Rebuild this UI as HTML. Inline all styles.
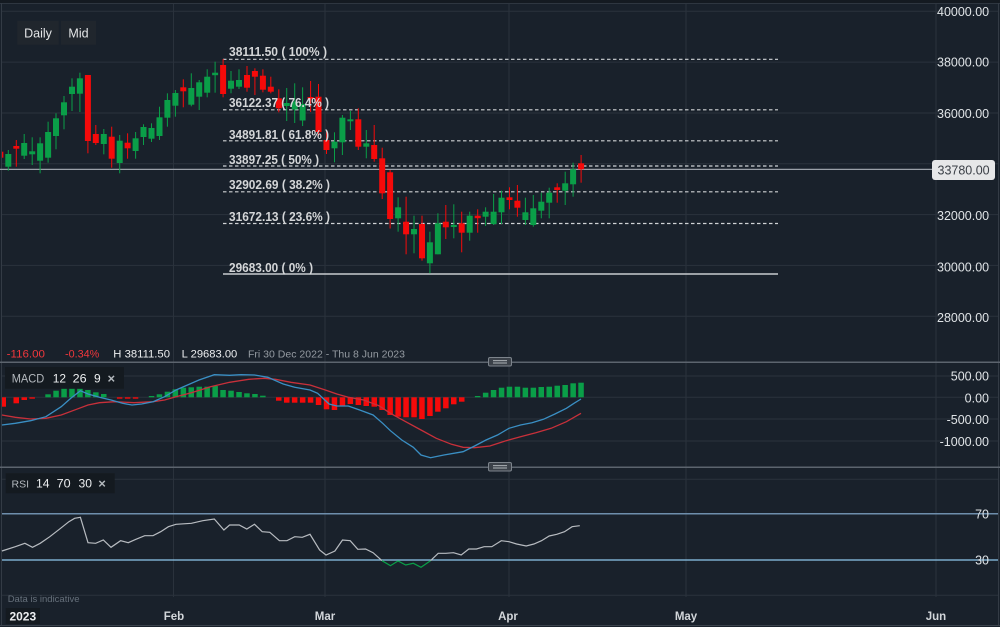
<!DOCTYPE html>
<html><head><meta charset="utf-8"><style>
html,body{margin:0;padding:0;background:#19212b;}
svg{display:block;font-family:"Liberation Sans",sans-serif;}
</style></head><body>
<svg width="1000" height="627" viewBox="0 0 1000 627" xmlns="http://www.w3.org/2000/svg">
<rect x="0" y="0" width="1000" height="627" fill="#19212b"/>
<rect x="0" y="0" width="1000" height="3" fill="#141a21"/>
<line x1="0" y1="3.5" x2="1000" y2="3.5" stroke="#2e3640" stroke-width="1"/>
<line x1="1.5" y1="3" x2="1.5" y2="625" stroke="#333b45" stroke-width="1"/>
<line x1="998.5" y1="3" x2="998.5" y2="625" stroke="#333b45" stroke-width="1"/>
<line x1="0" y1="625.5" x2="1000" y2="625.5" stroke="#3a424c" stroke-width="1"/>

<!-- vertical grid -->
<g stroke="#2a323c" stroke-width="1">
<line x1="173.5" y1="4" x2="173.5" y2="597"/>
<line x1="325" y1="4" x2="325" y2="597"/>
<line x1="509" y1="4" x2="509" y2="597"/>
<line x1="686" y1="4" x2="686" y2="597"/>
<line x1="936" y1="4" x2="936" y2="597"/>
</g>
<!-- horizontal grid main -->
<g stroke="#2a323c" stroke-width="1">
<line x1="2" y1="11.3" x2="998" y2="11.3"/>
<line x1="2" y1="62.1" x2="998" y2="62.1"/>
<line x1="2" y1="113" x2="998" y2="113"/>
<line x1="2" y1="163.8" x2="998" y2="163.8"/>
<line x1="2" y1="214.6" x2="998" y2="214.6"/>
<line x1="2" y1="265.4" x2="998" y2="265.4"/>
<line x1="2" y1="316.3" x2="998" y2="316.3"/>
<!-- macd grid -->
<line x1="2" y1="376" x2="998" y2="376"/>
<line x1="2" y1="397.3" x2="998" y2="397.3"/>
<line x1="2" y1="419" x2="998" y2="419"/>
<line x1="2" y1="441" x2="998" y2="441"/>
<!-- rsi grid -->
<line x1="2" y1="479.3" x2="998" y2="479.3"/>
<line x1="2" y1="595.3" x2="998" y2="595.3"/>
</g>

<!-- buttons -->
<rect x="17.3" y="20.7" width="41.4" height="24" fill="#20262d"/>
<rect x="61" y="20.7" width="35" height="24" fill="#20262d"/>
<text x="38" y="37.5" font-size="12.5" fill="#e4e6e8" text-anchor="middle">Daily</text>
<text x="78.5" y="37.5" font-size="12.5" fill="#e4e6e8" text-anchor="middle">Mid</text>

<!-- current price line -->
<line x1="0" y1="169.4" x2="932" y2="169.4" stroke="#9aa0a8" stroke-width="1.2"/>

<!-- fib lines -->
<g stroke="#cfd2d5" stroke-width="1.2" stroke-dasharray="3.5,2.5">
<line x1="223" y1="59.3" x2="778" y2="59.3"/>
<line x1="223" y1="109.8" x2="778" y2="109.8"/>
<line x1="223" y1="140.8" x2="778" y2="140.8"/>
<line x1="223" y1="166" x2="778" y2="166"/>
<line x1="223" y1="191.8" x2="778" y2="191.8"/>
<line x1="223" y1="223.5" x2="778" y2="223.5"/>
</g>
<line x1="223" y1="274" x2="778" y2="274" stroke="#c8ccd0" stroke-width="1.4"/>

<defs><clipPath id="pc"><rect x="2" y="4" width="934" height="356"/></clipPath></defs>
<g clip-path="url(#pc)">
<!-- candles: green -->
<g fill="#0a9e48">
<rect x="7.8" y="150" width="1" height="20.7"/><rect x="5.3" y="154" width="6" height="12.7"/>
<rect x="23.7" y="134" width="1" height="25"/><rect x="21.2" y="143" width="6" height="12.7"/>
<rect x="31.7" y="137.3" width="1" height="27.7"/><rect x="29.2" y="151.3" width="6" height="3"/>
<rect x="39.6" y="137.3" width="1" height="36"/><rect x="37.1" y="143.3" width="6" height="17.4"/>
<rect x="47.6" y="121.7" width="1" height="41"/><rect x="45.1" y="132" width="6" height="25.7"/>
<rect x="55.5" y="113.3" width="1" height="36"/><rect x="53" y="118.3" width="6" height="17.7"/>
<rect x="63.5" y="96" width="1" height="33.3"/><rect x="61" y="102.3" width="6" height="13"/>
<rect x="71.5" y="78.3" width="1" height="32.7"/><rect x="69" y="86.7" width="6" height="7.3"/>
<rect x="79.4" y="72.7" width="1" height="39.3"/><rect x="76.9" y="78.3" width="6" height="15.4"/>
<rect x="103.3" y="129" width="1" height="25.3"/><rect x="100.8" y="134" width="6" height="10"/>
<rect x="119.2" y="135" width="1" height="38.3"/><rect x="116.7" y="140.7" width="6" height="22.3"/>
<rect x="135.1" y="132" width="1" height="26.7"/><rect x="132.6" y="138.3" width="6" height="12.7"/>
<rect x="143" y="124.3" width="1" height="20.7"/><rect x="140.5" y="127" width="6" height="10"/>
<rect x="151" y="123.3" width="1" height="18.7"/><rect x="148.5" y="128" width="6" height="10.7"/>
<rect x="159" y="106.7" width="1" height="33.3"/><rect x="156.5" y="117.3" width="6" height="18.7"/>
<rect x="166.9" y="93.3" width="1" height="33.4"/><rect x="164.4" y="100" width="6" height="17.7"/>
<rect x="174.9" y="90" width="1" height="26.7"/><rect x="172.4" y="93" width="6" height="12.7"/>
<rect x="190.8" y="73.3" width="1" height="33"/><rect x="188.3" y="88" width="6" height="16.7"/>
<rect x="198.7" y="80" width="1" height="30"/><rect x="196.2" y="82.3" width="6" height="14.4"/>
<rect x="206.7" y="69.3" width="1" height="28"/><rect x="204.2" y="76.7" width="6" height="16"/>
<rect x="214.6" y="61.7" width="1" height="31"/><rect x="212.1" y="72.7" width="6" height="2.5"/>
<rect x="230.5" y="71" width="1" height="22.3"/><rect x="228" y="80.7" width="6" height="8"/>
<rect x="238.5" y="69.3" width="1" height="19.7"/><rect x="236" y="80" width="6" height="6.7"/>
<rect x="286.2" y="88" width="1" height="33"/><rect x="283.7" y="103" width="6" height="3"/>
<rect x="294.2" y="83.3" width="1" height="39.7"/><rect x="291.7" y="101.7" width="6" height="7.8"/>
<rect x="302.1" y="87.3" width="1" height="38.7"/><rect x="299.6" y="104" width="6" height="16.5"/>
<rect x="334" y="132.3" width="1" height="30"/><rect x="331.5" y="141.7" width="6" height="6.6"/>
<rect x="341.9" y="115" width="1" height="40"/><rect x="339.4" y="117.7" width="6" height="24.6"/>
<rect x="349.9" y="111" width="1" height="19"/><rect x="347.4" y="119.3" width="6" height="2"/>
<rect x="365.8" y="130" width="1" height="28.3"/><rect x="363.3" y="143.3" width="6" height="3.4"/>
<rect x="397.6" y="197.3" width="1" height="34.4"/><rect x="395.1" y="207.3" width="6" height="11"/>
<rect x="413.5" y="215.7" width="1" height="37.6"/><rect x="411" y="229" width="6" height="5.3"/>
<rect x="429.4" y="231.7" width="1" height="41.6"/><rect x="426.9" y="242.3" width="6" height="21"/>
<rect x="437.4" y="213.3" width="1" height="41"/><rect x="434.9" y="223.3" width="6" height="31"/>
<rect x="453.3" y="204.3" width="1" height="34"/><rect x="450.8" y="225" width="6" height="2"/>
<rect x="469.2" y="211.7" width="1" height="29"/><rect x="466.7" y="215.7" width="6" height="17"/>
<rect x="485.1" y="207.3" width="1" height="18.7"/><rect x="482.6" y="211.7" width="6" height="5"/>
<rect x="493.1" y="194" width="1" height="31"/><rect x="490.6" y="211.7" width="6" height="12.3"/>
<rect x="501" y="190.7" width="1" height="33.3"/><rect x="498.5" y="197.7" width="6" height="14.6"/>
<rect x="524.9" y="197.7" width="1" height="27.3"/><rect x="522.4" y="212.3" width="6" height="7.7"/>
<rect x="532.8" y="195" width="1" height="31.7"/><rect x="530.3" y="208.3" width="6" height="16.7"/>
<rect x="540.8" y="192.7" width="1" height="25.6"/><rect x="538.3" y="201.7" width="6" height="9"/>
<rect x="548.7" y="187.7" width="1" height="30.6"/><rect x="546.2" y="192.7" width="6" height="10"/>
<rect x="564.7" y="171.7" width="1" height="33.3"/><rect x="562.2" y="183.3" width="6" height="7.4"/>
<rect x="572.6" y="162.7" width="1" height="34"/><rect x="570.1" y="169.3" width="6" height="15"/>
</g>
<!-- candles: red -->
<g fill="#f50a0a">
<rect x="-0.2" y="148" width="1" height="12"/><rect x="-2.65" y="151.7" width="6" height="6"/>
<rect x="15.8" y="140" width="1" height="26.7"/><rect x="13.3" y="146" width="6" height="2.7"/>
<rect x="87.4" y="75" width="1" height="78.3"/><rect x="84.9" y="75" width="6" height="66"/>
<rect x="95.3" y="125" width="1" height="20"/><rect x="92.8" y="134" width="6" height="9"/>
<rect x="111.2" y="126.7" width="1" height="41"/><rect x="108.7" y="136.7" width="6" height="22"/>
<rect x="127.1" y="133.3" width="1" height="25.4"/><rect x="124.6" y="142.7" width="6" height="5.6"/>
<rect x="182.8" y="79.3" width="1" height="28"/><rect x="180.3" y="87.3" width="6" height="4"/>
<rect x="222.6" y="59" width="1" height="38.3"/><rect x="220.1" y="65" width="6" height="29"/>
<rect x="246.5" y="66" width="1" height="25.7"/><rect x="244" y="75" width="6" height="12.7"/>
<rect x="254.4" y="68.3" width="1" height="26.7"/><rect x="251.9" y="71" width="6" height="5.7"/>
<rect x="262.4" y="69.3" width="1" height="23"/><rect x="259.9" y="75.7" width="6" height="14"/>
<rect x="270.3" y="76.7" width="1" height="16.6"/><rect x="267.8" y="86.7" width="6" height="5"/>
<rect x="278.3" y="89.3" width="1" height="23"/><rect x="275.8" y="98.3" width="6" height="10"/>
<rect x="310.1" y="81" width="1" height="31"/><rect x="307.6" y="97" width="6" height="2"/>
<rect x="318" y="84" width="1" height="52"/><rect x="315.5" y="96.7" width="6" height="35.3"/>
<rect x="326" y="130" width="1" height="24"/><rect x="323.5" y="140" width="6" height="10"/>
<rect x="357.8" y="108.3" width="1" height="41.7"/><rect x="355.3" y="119.3" width="6" height="27.4"/>
<rect x="373.7" y="125" width="1" height="36.7"/><rect x="371.2" y="145" width="6" height="14"/>
<rect x="381.7" y="147.7" width="1" height="51.3"/><rect x="379.2" y="158.3" width="6" height="35"/>
<rect x="389.6" y="170" width="1" height="58.5"/><rect x="387.1" y="172.3" width="6" height="46.7"/>
<rect x="405.6" y="196.7" width="1" height="57.6"/><rect x="403.1" y="221.7" width="6" height="12.6"/>
<rect x="421.5" y="215.7" width="1" height="45"/><rect x="419" y="224" width="6" height="34.3"/>
<rect x="445.3" y="205" width="1" height="34"/><rect x="442.8" y="221.7" width="6" height="5.6"/>
<rect x="461.2" y="211.7" width="1" height="40.6"/><rect x="458.7" y="223.3" width="6" height="9.4"/>
<rect x="477.2" y="209.3" width="1" height="23.4"/><rect x="474.7" y="215.7" width="6" height="2.5"/>
<rect x="509" y="187.3" width="1" height="22"/><rect x="506.5" y="197.3" width="6" height="2.7"/>
<rect x="516.9" y="185" width="1" height="31.7"/><rect x="514.4" y="200.7" width="6" height="7"/>
<rect x="556.7" y="183.3" width="1" height="19.4"/><rect x="554.2" y="187.3" width="6" height="2.7"/>
<rect x="580.6" y="155" width="1" height="27.7"/><rect x="578.1" y="163.3" width="6" height="6"/>
</g>
</g>

<!-- fib labels -->
<g font-size="12.5" font-weight="bold" fill="#d4d6d8" lengthAdjust="spacingAndGlyphs">
<text x="229" y="56.2" textLength="98" lengthAdjust="spacingAndGlyphs">38111.50 ( 100% )</text>
<text x="229" y="107" textLength="100" lengthAdjust="spacingAndGlyphs">36122.37 ( 76.4% )</text>
<text x="229" y="138.8" textLength="100" lengthAdjust="spacingAndGlyphs">34891.81 ( 61.8% )</text>
<text x="229" y="163.8" textLength="90" lengthAdjust="spacingAndGlyphs">33897.25 ( 50% )</text>
<text x="229" y="188.8" textLength="101" lengthAdjust="spacingAndGlyphs">32902.69 ( 38.2% )</text>
<text x="229" y="221.2" textLength="101" lengthAdjust="spacingAndGlyphs">31672.13 ( 23.6% )</text>
<text x="229" y="272.2" textLength="84" lengthAdjust="spacingAndGlyphs">29683.00 ( 0% )</text>
</g>

<!-- price axis -->
<g font-size="12.5" fill="#dfe3e6">
<text x="937" y="16">40000.00</text>
<text x="937" y="66.6">38000.00</text>
<text x="937" y="118">36000.00</text>
<text x="937" y="220">32000.00</text>
<text x="937" y="271.3">30000.00</text>
<text x="937" y="322">28000.00</text>
</g>
<rect x="932" y="160" width="63" height="20" rx="3" fill="#e6e7e8"/>
<text x="937.5" y="174.5" font-size="12.5" fill="#3a3f46">33780.00</text>

<!-- info row -->
<g font-size="11">
<text x="6.7" y="357.5" fill="#f0373c" textLength="38.3" lengthAdjust="spacingAndGlyphs">-116.00</text>
<text x="65" y="357.5" fill="#f0373c" textLength="34.3" lengthAdjust="spacingAndGlyphs">-0.34%</text>
<text x="113.3" y="357.5" fill="#eceef0" textLength="56.7" lengthAdjust="spacingAndGlyphs">H 38111.50</text>
<text x="181.7" y="357.5" fill="#eceef0" textLength="55.6" lengthAdjust="spacingAndGlyphs">L 29683.00</text>
<text x="248" y="357.5" fill="#959ba2" font-size="10.5" textLength="157" lengthAdjust="spacingAndGlyphs">Fri 30 Dec 2022 - Thu 8 Jun 2023</text>
</g>

<!-- separators -->
<line x1="0" y1="362.3" x2="1000" y2="362.3" stroke="#5c646e" stroke-width="1.5"/>
<line x1="0" y1="467.3" x2="1000" y2="467.3" stroke="#5c646e" stroke-width="1.5"/>
<g>
<rect x="488.5" y="357.5" width="23" height="8.5" rx="1.5" fill="#3b4149" stroke="#7d848c" stroke-width="1"/>
<line x1="493" y1="360.7" x2="507" y2="360.7" stroke="#c0c4c8" stroke-width="0.9"/>
<line x1="493" y1="363" x2="507" y2="363" stroke="#c0c4c8" stroke-width="0.9"/>
<rect x="488.5" y="462.5" width="23" height="8.5" rx="1.5" fill="#3b4149" stroke="#7d848c" stroke-width="1"/>
<line x1="493" y1="465.7" x2="507" y2="465.7" stroke="#c0c4c8" stroke-width="0.9"/>
<line x1="493" y1="468" x2="507" y2="468" stroke="#c0c4c8" stroke-width="0.9"/>
</g>

<!-- MACD histogram -->
<g fill="#0a9e48">
<rect x="45.3" y="394.3" width="5.5" height="3"/>
<rect x="53.3" y="390.7" width="5.5" height="6.6"/>
<rect x="61.3" y="388.7" width="5.5" height="8.6"/>
<rect x="69.2" y="388.7" width="5.5" height="8.6"/>
<rect x="77.2" y="388.7" width="5.5" height="8.6"/>
<rect x="85.1" y="390" width="5.5" height="7.3"/>
<rect x="93.1" y="392.3" width="5.5" height="5"/>
<rect x="101" y="394" width="5.5" height="3.3"/>
<rect x="148.8" y="396" width="5.5" height="1.3"/>
<rect x="156.7" y="394.3" width="5.5" height="3"/>
<rect x="164.7" y="391.7" width="5.5" height="5.6"/>
<rect x="172.6" y="389.3" width="5.5" height="8"/>
<rect x="180.6" y="387.7" width="5.5" height="9.6"/>
<rect x="188.5" y="387.3" width="5.5" height="10"/>
<rect x="196.5" y="386.7" width="5.5" height="10.6"/>
<rect x="204.4" y="386.7" width="5.5" height="10.6"/>
<rect x="212.4" y="386" width="5.5" height="11.3"/>
<rect x="220.3" y="390" width="5.5" height="7.3"/>
<rect x="228.3" y="390.7" width="5.5" height="6.6"/>
<rect x="236.3" y="392" width="5.5" height="5.3"/>
<rect x="244.2" y="393.3" width="5.5" height="4"/>
<rect x="252.2" y="394" width="5.5" height="3.3"/>
<rect x="260.1" y="395.7" width="5.5" height="1.6"/>
<rect x="474.9" y="396" width="5.5" height="1.3"/>
<rect x="482.9" y="392.7" width="5.5" height="4.6"/>
<rect x="490.8" y="390" width="5.5" height="7.3"/>
<rect x="498.8" y="387.7" width="5.5" height="9.6"/>
<rect x="506.7" y="386.7" width="5.5" height="10.6"/>
<rect x="514.7" y="386.7" width="5.5" height="10.6"/>
<rect x="522.6" y="387.7" width="5.5" height="9.6"/>
<rect x="530.6" y="387.7" width="5.5" height="9.6"/>
<rect x="538.5" y="387" width="5.5" height="10.3"/>
<rect x="546.5" y="386.7" width="5.5" height="10.6"/>
<rect x="554.5" y="385.7" width="5.5" height="11.6"/>
<rect x="562.4" y="385" width="5.5" height="12.3"/>
<rect x="570.4" y="383.3" width="5.5" height="14"/>
<rect x="578.3" y="382.7" width="5.5" height="14.6"/>
</g>
<g fill="#f50a0a">
<rect x="2" y="397.3" width="4" height="9.4"/>
<rect x="13.5" y="397.3" width="5.5" height="6"/>
<rect x="21.5" y="397.3" width="5.5" height="2.7"/>
<rect x="29.4" y="397.3" width="5.5" height="1.4"/>
<rect x="116.9" y="397.3" width="5.5" height="1.4"/>
<rect x="124.9" y="397.3" width="5.5" height="1.4"/>
<rect x="132.8" y="397.3" width="5.5" height="1.4"/>
<rect x="276" y="397.3" width="5.5" height="3.4"/>
<rect x="284" y="397.3" width="5.5" height="5.4"/>
<rect x="291.9" y="397.3" width="5.5" height="5.4"/>
<rect x="299.9" y="397.3" width="5.5" height="5.4"/>
<rect x="307.8" y="397.3" width="5.5" height="5.4"/>
<rect x="315.8" y="397.3" width="5.5" height="7.7"/>
<rect x="323.8" y="397.3" width="5.5" height="12"/>
<rect x="331.7" y="397.3" width="5.5" height="12.7"/>
<rect x="339.7" y="397.3" width="5.5" height="8.7"/>
<rect x="347.6" y="397.3" width="5.5" height="6.7"/>
<rect x="355.6" y="397.3" width="5.5" height="7.7"/>
<rect x="363.5" y="397.3" width="5.5" height="8.7"/>
<rect x="371.5" y="397.3" width="5.5" height="9.4"/>
<rect x="379.4" y="397.3" width="5.5" height="12.7"/>
<rect x="387.4" y="397.3" width="5.5" height="17.7"/>
<rect x="395.4" y="397.3" width="5.5" height="19.4"/>
<rect x="403.3" y="397.3" width="5.5" height="20"/>
<rect x="411.3" y="397.3" width="5.5" height="20"/>
<rect x="419.2" y="397.3" width="5.5" height="21.7"/>
<rect x="427.2" y="397.3" width="5.5" height="18.7"/>
<rect x="435.1" y="397.3" width="5.5" height="14.4"/>
<rect x="443.1" y="397.3" width="5.5" height="11"/>
<rect x="451" y="397.3" width="5.5" height="7"/>
<rect x="459" y="397.3" width="5.5" height="4.4"/>
</g>
<polyline fill="none" stroke="#c8303a" stroke-width="1.3" points="1.9,415 15.3,417.3 30.6,419 45.9,418.3 61.2,415 76.5,409.3 88,405 99.5,402.7 114.8,401.7 134,402.7 153.1,401.7 164.6,400 176,396.7 191.4,392.7 210.5,386.7 229.6,382.3 248.8,379.3 264.1,378.3 275.5,379.3 290.9,382.3 310,385 325.3,390 336.8,394 348.3,397.3 363.6,400 378.9,405.7 390.4,413.3 405.7,421.7 421,430 436.3,438.3 451.6,444.3 463.1,447.3 474.6,447.7 489.9,446 505.2,441 520.5,436.7 535.8,432.7 551.1,428.3 566.4,421.7 581,413.3"/>
<polyline fill="none" stroke="#3a8fc4" stroke-width="1.3" points="1.9,425 15.3,423.3 30.6,420.7 45.9,416.7 61.2,406.7 70.8,398.3 80.4,390.7 88,394 99.5,397.3 111,400 122.5,403.3 132,405 141.6,404 153.1,401.7 164.6,396.7 176,390 187.5,385 199,380 214.3,374.7 229.6,375.3 241.1,374.7 254.5,375 267.9,377.3 283.2,384 294.7,387.3 310,390 317.6,393.3 329.1,404 336.8,406 348.3,406 359.7,410 373.1,415 382.7,423.3 390.4,430.7 401.8,440 413.3,447.3 421,455 430.5,457.7 443.9,455 463.1,451.7 474.6,446 486,440 497.5,435 509,428.3 520.5,425 532,422.7 543.4,419.3 554.9,414 566.4,408.3 574,403.3 581,399"/>

<!-- MACD label -->
<rect x="5" y="367" width="119" height="21.7" fill="#141a20"/>
<text x="11.7" y="382.3" font-size="11.5" fill="#b4b9be" textLength="32.5" lengthAdjust="spacingAndGlyphs">MACD</text>
<g font-size="12" fill="#eceef0">
<text x="52.7" y="382.5" textLength="13.3" lengthAdjust="spacingAndGlyphs">12</text>
<text x="72.7" y="382.5" textLength="14" lengthAdjust="spacingAndGlyphs">26</text>
<text x="94" y="382.5">9</text>
</g>
<text x="107.5" y="383" font-size="13" fill="#b4b9be" font-weight="bold">×</text>

<!-- MACD axis -->
<g font-size="12.5" fill="#dfe3e6" text-anchor="end">
<text x="989" y="380.5">500.00</text>
<text x="989" y="402.5">0.00</text>
<text x="989" y="424">-500.00</text>
<text x="989" y="446">-1000.00</text>
</g>

<!-- RSI -->
<line x1="2" y1="513.7" x2="998" y2="513.7" stroke="#6e8eac" stroke-width="1.5"/>
<line x1="2" y1="560" x2="998" y2="560" stroke="#8ec8ec" stroke-width="1.2"/>
<polyline fill="none" stroke="#b8bcc1" stroke-width="1.2" points="1.9,551 15.3,546.7 24.9,543.3 32.5,547.3 40.2,543.3 49.8,536.7 59.3,529.3 68.9,521.7 74.6,518.3 80.4,517.3 88,542.7 95.7,543.3 103.3,540 111,547.3 120.6,540.7 128.2,542.7 135.9,539.3 144.7,535.7 153,535.7 160.7,531.7 168.4,526.7 176,524.3 191.4,523.3 202.8,520.7 214.3,519 223.9,530 229.6,525 239.2,525 246.8,529 254.5,524.3 262.2,531.7 269.8,532.3 279.4,540.7 287,540.7 294.7,536.7 302.3,537.3 310,534.3 319.6,550 326,555 334.9,551 342.5,540 350.2,540.7 357.8,549.3 365.5,549 373.1,552.7 382,560.7"/>
<polyline fill="none" stroke="#0a9e48" stroke-width="1.2" points="382,560.7 390.4,565.7 398,561 405.7,565 413.3,563.3 421,567.3 430.5,560.7"/>
<polyline fill="none" stroke="#b8bcc1" stroke-width="1.2" points="430.5,560.7 438.2,553.3 445.8,553.3 453.5,552.7 461.2,555 468.8,549 476.5,549 484.1,546.7 491.8,546.7 501.3,540.7 509,541.7 516.6,544 526.2,546 533.9,544 541.5,540.7 549.2,536 556.8,534.3 564.5,531.7 572.1,526.7 579.8,525.7"/>
<rect x="5.7" y="473.3" width="109" height="20" fill="#141a20"/>
<text x="11.5" y="487.5" font-size="10.5" fill="#b4b9be" textLength="17.5" lengthAdjust="spacingAndGlyphs">RSI</text>
<g font-size="12" fill="#eceef0">
<text x="36" y="487.5" textLength="13.5" lengthAdjust="spacingAndGlyphs">14</text>
<text x="56.6" y="487.5" textLength="14" lengthAdjust="spacingAndGlyphs">70</text>
<text x="78.5" y="487.5" textLength="13.5" lengthAdjust="spacingAndGlyphs">30</text>
</g>
<text x="98.2" y="488" font-size="13" fill="#b4b9be" font-weight="bold">×</text>
<g font-size="12.5" fill="#dfe3e6" text-anchor="end">
<text x="989" y="518.3">70</text>
<text x="989" y="564.6">30</text>
</g>

<text x="7.7" y="602" font-size="9.5" fill="#66707b">Data is indicative</text>

<!-- x axis -->
<rect x="5.7" y="608" width="34.3" height="16" fill="#141a20"/>
<text x="22.8" y="620.3" font-size="12" font-weight="bold" fill="#eceef0" text-anchor="middle">2023</text>
<g font-size="11.5" font-weight="bold" fill="#d2d6da" text-anchor="middle">
<text x="174" y="620">Feb</text>
<text x="325" y="620">Mar</text>
<text x="508" y="620">Apr</text>
<text x="686" y="620">May</text>
<text x="936" y="620">Jun</text>
</g>
</svg>
</body></html>
